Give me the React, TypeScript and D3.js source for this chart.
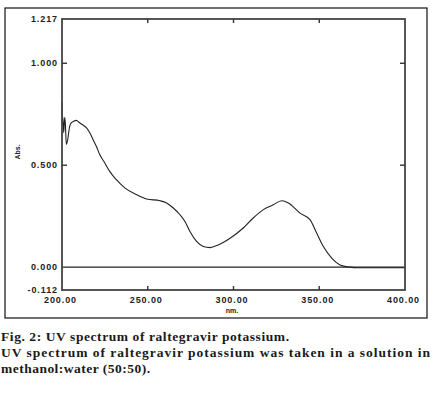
import React from "react";
import * as d3 from "d3";

// Wavelength (nm) and absorbance values
const wavelengths = [
  200.0, 200.2, 200.5, 201.0, 201.6, 202.0, 202.5, 203.2, 204.5, 205.4, 206.4,
  208.3, 210.3, 212.2, 214.2, 216.2, 218.1, 220.0, 222.0, 224.9, 227.8, 231.7,
  236.6, 243.3, 249.4, 257.1, 261.0, 264.9, 268.8, 271.7, 274.6, 278.5, 282.4,
  286.3, 291.1, 298.0, 305.7, 311.5, 317.4, 323.2, 328.1, 332.0, 338.8, 344.6,
  348.5, 352.4, 357.3, 362.1, 368.0, 372.0, 380.0, 390.0, 400.0,
];
const absorbance = [
  0.81, 0.7, 0.735, 0.66, 0.735, 0.7, 0.602, 0.62, 0.692, 0.708, 0.713,
  0.72, 0.708, 0.697, 0.684, 0.659, 0.626, 0.593, 0.552, 0.512, 0.47, 0.429,
  0.389, 0.356, 0.334, 0.326, 0.315, 0.29, 0.257, 0.224, 0.175, 0.126, 0.101,
  0.096, 0.109, 0.142, 0.192, 0.241, 0.282, 0.306, 0.326, 0.315, 0.265, 0.233,
  0.167, 0.101, 0.044, 0.011, 0.0, -0.003, -0.003, -0.003, -0.003,
];

const yTickValues = [1.217, 1.0, 0.5, 0.0, -0.112];
const yTickLabels = ["1.217", "1.000", "0.500", "0.000", "-0.112"];
const xTickValues = [200, 250, 300, 350, 400];
const xTickLabels = ["200.00", "250.00", "300.00", "350.00", "400.00"];
const innerTicksX = [250, 300, 350];
const innerTicksY = [1.0, 0.5];

const captionLines = [
  "Fig. 2: UV spectrum of raltegravir potassium.",
  "UV spectrum of raltegravir potassium was taken in a solution in",
  "methanol:water (50:50).",
];

export default function App() {
  const W = 436;
  const H = 395;
  const left = 62;
  const right = 405;
  const top = 19;
  const bottom = 290;

  const x = d3.scaleLinear().domain([200, 400]).range([left, right]);
  const y = d3.scaleLinear().domain([-0.112, 1.217]).range([bottom, top]);

  const data = wavelengths.map((w, i) => [w, absorbance[i]] as [number, number]);
  const line = d3
    .line<[number, number]>()
    .x((d) => x(d[0]))
    .y((d) => y(d[1]))
    .curve(d3.curveMonotoneX);

  const tickFont = {
    fontFamily: "'Liberation Sans', Arial, sans-serif",
    fontWeight: 700,
    fontSize: 9,
    letterSpacing: "0.9px",
    fill: "#222",
  } as const;

  const capFont = {
    fontFamily: "'Liberation Serif', 'Times New Roman', serif",
    fontWeight: 700,
    fontSize: 13.5,
    fill: "#1a1a1a",
  } as const;

  return (
    <svg
      width={W}
      height={H}
      style={{ position: "absolute", left: 0, top: 0, background: "#fff" }}
    >
      {/* outer frame */}
      <rect x={5} y={8} width={422} height={310} fill="none" stroke="#111" strokeWidth={1.2} />

      {/* zero line */}
      <line x1={left} x2={right} y1={y(0)} y2={y(0)} stroke="#222" strokeWidth={1.2} />

      {/* spectrum */}
      <path d={line(data) || ""} fill="none" stroke="#222" strokeWidth={1.1} strokeLinejoin="round" />

      {/* axes box */}
      <rect
        x={left}
        y={top}
        width={right - left}
        height={bottom - top}
        fill="none"
        stroke="#444"
        strokeWidth={1.8}
      />

      {/* inner ticks */}
      {innerTicksX.map((v) => (
        <g key={"tx" + v}>
          <line x1={x(v)} x2={x(v)} y1={bottom} y2={bottom - 4} stroke="#333" strokeWidth={1.4} />
          <line x1={x(v)} x2={x(v)} y1={top} y2={top + 4} stroke="#333" strokeWidth={1.4} />
        </g>
      ))}
      {innerTicksY.map((v) => (
        <g key={"ty" + v}>
          <line x1={left} x2={left + 5} y1={y(v)} y2={y(v)} stroke="#333" strokeWidth={1.4} />
          <line x1={right} x2={right - 5} y1={y(v)} y2={y(v)} stroke="#333" strokeWidth={1.4} />
        </g>
      ))}

      {/* y tick labels */}
      {yTickValues.map((v, i) => (
        <text
          key={"yl" + i}
          x={58}
          y={y(v)}
          textAnchor="end"
          dominantBaseline="central"
          {...tickFont}
        >
          {yTickLabels[i]}
        </text>
      ))}

      {/* x tick labels */}
      {xTickValues.map((v, i) => (
        <text
          key={"xl" + i}
          x={x(v) - 1.5}
          y={300}
          textAnchor="middle"
          dominantBaseline="central"
          {...tickFont}
        >
          {xTickLabels[i]}
        </text>
      ))}

      {/* axis titles */}
      <text
        x={232}
        y={310.5}
        textAnchor="middle"
        dominantBaseline="central"
        fontFamily="'Liberation Sans', Arial, sans-serif"
        fontWeight={700}
        fontSize={7}
        fill="#222"
      >
        nm.
      </text>
      <text
        transform="translate(17,152) rotate(-90)"
        textAnchor="middle"
        dominantBaseline="central"
        fontFamily="'Liberation Sans', Arial, sans-serif"
        fontWeight={700}
        fontSize={7}
        fill="#222"
      >
        Abs.
      </text>

      {/* caption */}
      <text x={1} y={341} {...capFont} textLength={288} lengthAdjust="spacing">
        {captionLines[0]}
      </text>
      <text x={1} y={357} {...capFont} textLength={429} lengthAdjust="spacing">
        {captionLines[1]}
      </text>
      <text x={1} y={373} {...capFont} textLength={149} lengthAdjust="spacing">
        {captionLines[2]}
      </text>
    </svg>
  );
}
